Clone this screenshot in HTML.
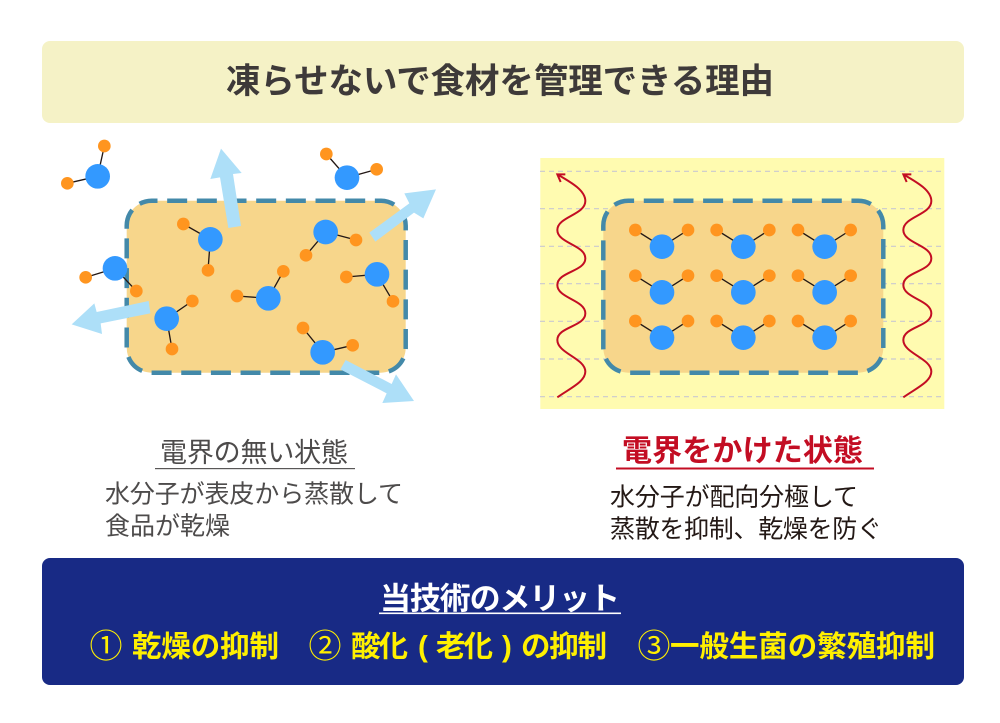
<!DOCTYPE html>
<html lang="ja"><head><meta charset="utf-8"><style>
html,body{margin:0;padding:0;background:#fff;width:1000px;height:723px;overflow:hidden}
svg{display:block}
text{font-family:"Liberation Sans","Noto Sans CJK JP",sans-serif}
.b{font-weight:700}
.g{fill:#4d4b4b;font-size:25px}
.y{fill:#fff000;font-size:29.5px;font-weight:700}
.n{fill:#fff000;font-size:33px;font-weight:400;text-anchor:middle}
</style></head><body>
<svg width="1000" height="723" viewBox="0 0 1000 723" xmlns="http://www.w3.org/2000/svg">
<defs>
<g id="r"><line x1="-80" y1="-50" x2="0" y2="0" stroke="#231815" stroke-width="4"/><line x1="78" y1="-50" x2="0" y2="0" stroke="#231815" stroke-width="4"/><circle r="37" fill="#3399ff"/><circle cx="-80" cy="-50" r="19" fill="#ff951f"/><circle cx="78" cy="-50" r="19" fill="#ff951f"/></g>
<g id="w"><path d="M82,742 C120,715 166,695 166,665 C166,625 82,610 82,570 C82,530 166,530 166,490 C166,450 82,445 82,405 C82,365 166,365 166,325 C166,285 82,280 82,240 C82,200 166,195 166,153 C166,120 120,95 82,73 M106,73 L82,73 L92,96" fill="none" stroke="#c30d23" stroke-width="6"/></g>
</defs>
<rect x="42" y="41" width="922" height="82" rx="8" fill="#f5f2c6"/>
<text x="226" y="93" class="b" font-size="34.5" fill="#3e3a39" textLength="548" lengthAdjust="spacing">凍らせないで食材を管理できる理由</text>

<!-- left -->
<rect x="126.7" y="200.7" width="279" height="172" rx="25" fill="#f7d68b"/>
<rect x="126.7" y="200.7" width="279" height="172" rx="25" fill="none" stroke="#4389a9" stroke-width="4.5" stroke-dasharray="20 9.67" stroke-dashoffset="14.2"/>
<g transform="translate(40 130) scale(.33333)">
<g stroke="#231815" stroke-width="4">
<path d="M173,139 L193,48 M173,139 L82,160 M921,143 L859,72 M921,143 L1010,118 M511,328 L430,282 M511,328 L504,421 M857,306 L798,376 M857,306 L948,330 M1011,433 L919,441 M1011,433 L1059,514 M225,415 L137,442 M225,415 L289,483 M685,505 L591,498 M685,505 L730,424 M380,566 L457,513 M380,566 L396,657 M848,667 L789,594 M848,667 L938,646" fill="none"/>
</g>
<g fill="#3399ff"><circle cx="173" cy="139" r="37"/><circle cx="921" cy="143" r="37"/><circle cx="511" cy="328" r="37"/><circle cx="857" cy="306" r="37"/><circle cx="1011" cy="433" r="37"/><circle cx="225" cy="415" r="37"/><circle cx="685" cy="505" r="37"/><circle cx="380" cy="566" r="37"/><circle cx="848" cy="667" r="37"/></g>
<g fill="#ff951f"><circle cx="193" cy="48" r="19"/><circle cx="82" cy="160" r="19"/><circle cx="859" cy="72" r="19"/><circle cx="1010" cy="118" r="19"/><circle cx="430" cy="282" r="19"/><circle cx="504" cy="421" r="19"/><circle cx="798" cy="376" r="19"/><circle cx="948" cy="330" r="19"/><circle cx="919" cy="441" r="19"/><circle cx="1059" cy="514" r="19"/><circle cx="137" cy="442" r="19"/><circle cx="289" cy="483" r="19"/><circle cx="591" cy="498" r="19"/><circle cx="730" cy="424" r="19"/><circle cx="457" cy="513" r="19"/><circle cx="396" cy="657" r="19"/><circle cx="789" cy="594" r="19"/><circle cx="938" cy="646" r="19"/></g>
<g fill="#addff8">
<polygon points="565,294 603,288 579,132 605,129 543,56 511,147 540,142"/>
<polygon points="988,308 1006,335 1122,248 1150,265 1188,178 1093,190 1108,220"/>
<polygon points="326,513 331,550 182,580 186,612 95,583 163,520 170,546"/>
<polygon points="917,690 901,718 1040,790 1027,819 1122,813 1068,733 1055,762"/>
</g>
</g>

<!-- right -->
<rect x="540.3" y="158" width="404" height="251" fill="#fffbb0"/>
<g stroke="#c9c9d0" stroke-width="1.2" stroke-dasharray="5 4">
<line x1="540" x2="944" y1="171.3" y2="171.3"/><line x1="540" x2="944" y1="208.7" y2="208.7"/><line x1="540" x2="944" y1="246.3" y2="246.3"/><line x1="540" x2="944" y1="283.7" y2="283.7"/><line x1="540" x2="944" y1="321.3" y2="321.3"/><line x1="540" x2="944" y1="359" y2="359"/><line x1="540" x2="944" y1="396.7" y2="396.7"/>
</g>
<rect x="603.3" y="200.7" width="280" height="172" rx="25" fill="#f7d68b"/>
<rect x="603.3" y="200.7" width="280" height="172" rx="25" fill="none" stroke="#4389a9" stroke-width="4.5" stroke-dasharray="20 9.67" stroke-dashoffset="14.2"/>
<g transform="translate(530 150) scale(.33333)">
<use href="#w"/><use href="#w" x="1038"/>
<use href="#r" x="396" y="290"/><use href="#r" x="640" y="290"/><use href="#r" x="884" y="290"/>
<use href="#r" x="396" y="427"/><use href="#r" x="640" y="427"/><use href="#r" x="884" y="427"/>
<use href="#r" x="396" y="563"/><use href="#r" x="640" y="563"/><use href="#r" x="884" y="563"/>
</g>

<!-- captions -->
<text x="160" y="462" fill="#4d4b4b" font-size="27" textLength="188" lengthAdjust="spacing">電界の無い状態</text>
<rect x="155" y="468" width="200" height="1.2" fill="#595757"/>
<text x="105" y="502.5" class="g" textLength="298" lengthAdjust="spacing">水分子が表皮から蒸散して</text>
<text x="105" y="534.5" class="g" textLength="125" lengthAdjust="spacing">食品が乾燥</text>

<text x="622" y="461" class="b" font-size="30" fill="#c30d23" textLength="241" lengthAdjust="spacing">電界をかけた状態</text>
<rect x="616" y="467.5" width="258" height="2" fill="#c30d23"/>
<text x="610" y="505.5" font-size="25" fill="#231815" textLength="248" lengthAdjust="spacing">水分子が配向分極して</text>
<text x="610" y="537.5" font-size="25" fill="#231815" textLength="272" lengthAdjust="spacing">蒸散を抑制、乾燥を防ぐ</text>

<!-- bottom -->
<rect x="42" y="558" width="922" height="127" rx="8" fill="#182a85"/>
<text x="380" y="609.5" class="b" font-size="31" fill="#fff" textLength="240" lengthAdjust="spacing">当技術のメリット</text>
<rect x="379" y="612.5" width="242" height="1.6" fill="#fff"/>
<text x="106" y="657.5" class="n">①</text>
<text x="132" y="656.5" class="y" textLength="147" lengthAdjust="spacing">乾燥の抑制</text>
<text x="325" y="657.5" class="n">②</text>
<text x="351" y="656.5" class="y" textLength="57" lengthAdjust="spacing">酸化</text>
<text x="418" y="656.5" class="y">(</text>
<text x="436" y="656.5" class="y" textLength="57" lengthAdjust="spacing">老化</text>
<text x="502" y="656.5" class="y">)</text>
<text x="521" y="656.5" class="y" textLength="86" lengthAdjust="spacing">の抑制</text>
<text x="654" y="657.5" class="n">③</text>
<text x="670" y="656.5" class="y" textLength="265" lengthAdjust="spacing">一般生菌の繁殖抑制</text>
</svg>
</body></html>
